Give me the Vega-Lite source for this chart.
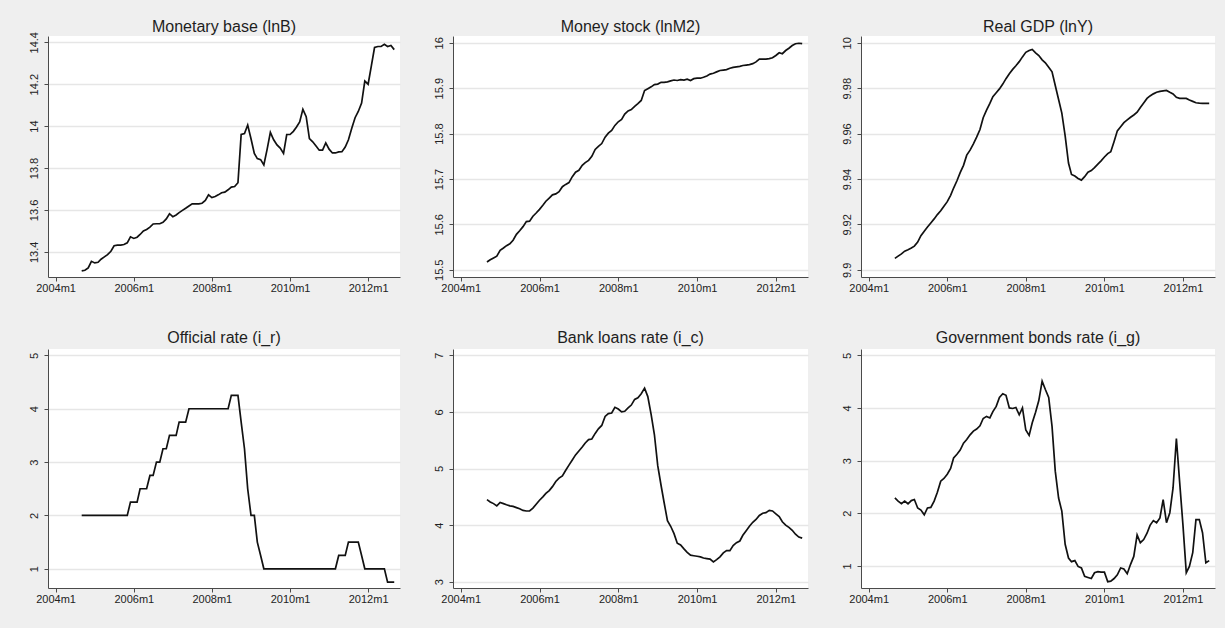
{
  "$schema": "https://vega.github.io/schema/vega-lite/v6.json",
  "background": "#efefef",
  "padding": {"left": 28, "top": 18, "right": 10, "bottom": 24},
  "data": {
    "values": [
      {"month": "2004-09-01", "lnB": 13.309, "lnM2": 15.517, "lnY": 9.905, "i_r": 2, "i_c": 4.45, "i_g": 2.29},
      {"month": "2004-10-01", "lnB": 13.312, "lnM2": 15.522, "lnY": 9.906, "i_r": 2, "i_c": 4.41, "i_g": 2.23},
      {"month": "2004-11-01", "lnB": 13.323, "lnM2": 15.526, "lnY": 9.907, "i_r": 2, "i_c": 4.38, "i_g": 2.18},
      {"month": "2004-12-01", "lnB": 13.355, "lnM2": 15.53, "lnY": 9.9082, "i_r": 2, "i_c": 4.34, "i_g": 2.23},
      {"month": "2005-01-01", "lnB": 13.347, "lnM2": 15.543, "lnY": 9.9088, "i_r": 2, "i_c": 4.4, "i_g": 2.18},
      {"month": "2005-02-01", "lnB": 13.35, "lnM2": 15.548, "lnY": 9.9096, "i_r": 2, "i_c": 4.38, "i_g": 2.24},
      {"month": "2005-03-01", "lnB": 13.365, "lnM2": 15.553, "lnY": 9.9104, "i_r": 2, "i_c": 4.36, "i_g": 2.26},
      {"month": "2005-04-01", "lnB": 13.376, "lnM2": 15.557, "lnY": 9.9122, "i_r": 2, "i_c": 4.34, "i_g": 2.1},
      {"month": "2005-05-01", "lnB": 13.387, "lnM2": 15.565, "lnY": 9.915, "i_r": 2, "i_c": 4.33, "i_g": 2.06},
      {"month": "2005-06-01", "lnB": 13.403, "lnM2": 15.578, "lnY": 9.917, "i_r": 2, "i_c": 4.31, "i_g": 1.97},
      {"month": "2005-07-01", "lnB": 13.429, "lnM2": 15.586, "lnY": 9.9188, "i_r": 2, "i_c": 4.29, "i_g": 2.1},
      {"month": "2005-08-01", "lnB": 13.432, "lnM2": 15.595, "lnY": 9.9206, "i_r": 2, "i_c": 4.26, "i_g": 2.11},
      {"month": "2005-09-01", "lnB": 13.432, "lnM2": 15.606, "lnY": 9.9224, "i_r": 2, "i_c": 4.25, "i_g": 2.23},
      {"month": "2005-10-01", "lnB": 13.435, "lnM2": 15.607, "lnY": 9.9243, "i_r": 2, "i_c": 4.25, "i_g": 2.4},
      {"month": "2005-11-01", "lnB": 13.443, "lnM2": 15.618, "lnY": 9.926, "i_r": 2, "i_c": 4.3, "i_g": 2.61},
      {"month": "2005-12-01", "lnB": 13.472, "lnM2": 15.625, "lnY": 9.928, "i_r": 2.25, "i_c": 4.37, "i_g": 2.66},
      {"month": "2006-01-01", "lnB": 13.464, "lnM2": 15.633, "lnY": 9.93, "i_r": 2.25, "i_c": 4.44, "i_g": 2.74},
      {"month": "2006-02-01", "lnB": 13.47, "lnM2": 15.642, "lnY": 9.9328, "i_r": 2.25, "i_c": 4.5, "i_g": 2.85},
      {"month": "2006-03-01", "lnB": 13.483, "lnM2": 15.651, "lnY": 9.936, "i_r": 2.5, "i_c": 4.56, "i_g": 3.05},
      {"month": "2006-04-01", "lnB": 13.5, "lnM2": 15.658, "lnY": 9.9392, "i_r": 2.5, "i_c": 4.61, "i_g": 3.12},
      {"month": "2006-05-01", "lnB": 13.507, "lnM2": 15.665, "lnY": 9.9428, "i_r": 2.5, "i_c": 4.68, "i_g": 3.2},
      {"month": "2006-06-01", "lnB": 13.518, "lnM2": 15.667, "lnY": 9.946, "i_r": 2.75, "i_c": 4.77, "i_g": 3.33},
      {"month": "2006-07-01", "lnB": 13.533, "lnM2": 15.672, "lnY": 9.9505, "i_r": 2.75, "i_c": 4.83, "i_g": 3.4},
      {"month": "2006-08-01", "lnB": 13.534, "lnM2": 15.683, "lnY": 9.9527, "i_r": 3, "i_c": 4.87, "i_g": 3.49},
      {"month": "2006-09-01", "lnB": 13.534, "lnM2": 15.688, "lnY": 9.9555, "i_r": 3, "i_c": 4.97, "i_g": 3.56},
      {"month": "2006-10-01", "lnB": 13.541, "lnM2": 15.692, "lnY": 9.9584, "i_r": 3.25, "i_c": 5.06, "i_g": 3.6},
      {"month": "2006-11-01", "lnB": 13.557, "lnM2": 15.705, "lnY": 9.9618, "i_r": 3.25, "i_c": 5.15, "i_g": 3.66},
      {"month": "2006-12-01", "lnB": 13.582, "lnM2": 15.715, "lnY": 9.967, "i_r": 3.5, "i_c": 5.24, "i_g": 3.8},
      {"month": "2007-01-01", "lnB": 13.568, "lnM2": 15.719, "lnY": 9.9703, "i_r": 3.5, "i_c": 5.31, "i_g": 3.84},
      {"month": "2007-02-01", "lnB": 13.576, "lnM2": 15.73, "lnY": 9.9733, "i_r": 3.5, "i_c": 5.38, "i_g": 3.81},
      {"month": "2007-03-01", "lnB": 13.587, "lnM2": 15.736, "lnY": 9.9763, "i_r": 3.75, "i_c": 5.45, "i_g": 3.93},
      {"month": "2007-04-01", "lnB": 13.598, "lnM2": 15.741, "lnY": 9.978, "i_r": 3.75, "i_c": 5.51, "i_g": 4.03},
      {"month": "2007-05-01", "lnB": 13.608, "lnM2": 15.75, "lnY": 9.9797, "i_r": 3.75, "i_c": 5.52, "i_g": 4.2},
      {"month": "2007-06-01", "lnB": 13.619, "lnM2": 15.765, "lnY": 9.9818, "i_r": 4, "i_c": 5.62, "i_g": 4.27},
      {"month": "2007-07-01", "lnB": 13.629, "lnM2": 15.772, "lnY": 9.9842, "i_r": 4, "i_c": 5.7, "i_g": 4.24},
      {"month": "2007-08-01", "lnB": 13.629, "lnM2": 15.778, "lnY": 9.9864, "i_r": 4, "i_c": 5.76, "i_g": 4.0},
      {"month": "2007-09-01", "lnB": 13.629, "lnM2": 15.792, "lnY": 9.9883, "i_r": 4, "i_c": 5.92, "i_g": 3.99},
      {"month": "2007-10-01", "lnB": 13.632, "lnM2": 15.801, "lnY": 9.9899, "i_r": 4, "i_c": 5.97, "i_g": 4.01},
      {"month": "2007-11-01", "lnB": 13.645, "lnM2": 15.807, "lnY": 9.9917, "i_r": 4, "i_c": 5.98, "i_g": 3.87},
      {"month": "2007-12-01", "lnB": 13.672, "lnM2": 15.818, "lnY": 9.9938, "i_r": 4, "i_c": 6.08, "i_g": 4.0},
      {"month": "2008-01-01", "lnB": 13.659, "lnM2": 15.826, "lnY": 9.9958, "i_r": 4, "i_c": 6.05, "i_g": 3.58},
      {"month": "2008-02-01", "lnB": 13.664, "lnM2": 15.831, "lnY": 9.9966, "i_r": 4, "i_c": 6.0, "i_g": 3.48},
      {"month": "2008-03-01", "lnB": 13.672, "lnM2": 15.843, "lnY": 9.9971, "i_r": 4, "i_c": 6.01, "i_g": 3.72},
      {"month": "2008-04-01", "lnB": 13.682, "lnM2": 15.85, "lnY": 9.9956, "i_r": 4, "i_c": 6.07, "i_g": 3.92},
      {"month": "2008-05-01", "lnB": 13.685, "lnM2": 15.853, "lnY": 9.9944, "i_r": 4, "i_c": 6.12, "i_g": 4.14},
      {"month": "2008-06-01", "lnB": 13.696, "lnM2": 15.86, "lnY": 9.9925, "i_r": 4, "i_c": 6.22, "i_g": 4.51},
      {"month": "2008-07-01", "lnB": 13.709, "lnM2": 15.866, "lnY": 9.9912, "i_r": 4.25, "i_c": 6.25, "i_g": 4.35},
      {"month": "2008-08-01", "lnB": 13.712, "lnM2": 15.873, "lnY": 9.9892, "i_r": 4.25, "i_c": 6.32, "i_g": 4.2},
      {"month": "2008-09-01", "lnB": 13.73, "lnM2": 15.895, "lnY": 9.9872, "i_r": 4.25, "i_c": 6.42, "i_g": 3.65},
      {"month": "2008-10-01", "lnB": 13.96, "lnM2": 15.899, "lnY": 9.9812, "i_r": 3.75, "i_c": 6.27, "i_g": 2.8},
      {"month": "2008-11-01", "lnB": 13.965, "lnM2": 15.903, "lnY": 9.975, "i_r": 3.25, "i_c": 5.95, "i_g": 2.29},
      {"month": "2008-12-01", "lnB": 14.005, "lnM2": 15.908, "lnY": 9.969, "i_r": 2.5, "i_c": 5.6, "i_g": 2.04},
      {"month": "2009-01-01", "lnB": 13.94, "lnM2": 15.909, "lnY": 9.959, "i_r": 2, "i_c": 5.05, "i_g": 1.41},
      {"month": "2009-02-01", "lnB": 13.87, "lnM2": 15.913, "lnY": 9.947, "i_r": 2, "i_c": 4.7, "i_g": 1.15},
      {"month": "2009-03-01", "lnB": 13.845, "lnM2": 15.913, "lnY": 9.942, "i_r": 1.5, "i_c": 4.4, "i_g": 1.08},
      {"month": "2009-04-01", "lnB": 13.84, "lnM2": 15.914, "lnY": 9.9413, "i_r": 1.25, "i_c": 4.08, "i_g": 1.1},
      {"month": "2009-05-01", "lnB": 13.815, "lnM2": 15.916, "lnY": 9.9402, "i_r": 1, "i_c": 3.98, "i_g": 0.99},
      {"month": "2009-06-01", "lnB": 13.89, "lnM2": 15.918, "lnY": 9.9395, "i_r": 1, "i_c": 3.85, "i_g": 0.96},
      {"month": "2009-07-01", "lnB": 13.97, "lnM2": 15.917, "lnY": 9.941, "i_r": 1, "i_c": 3.68, "i_g": 0.8},
      {"month": "2009-08-01", "lnB": 13.935, "lnM2": 15.919, "lnY": 9.943, "i_r": 1, "i_c": 3.65, "i_g": 0.78},
      {"month": "2009-09-01", "lnB": 13.91, "lnM2": 15.918, "lnY": 9.9437, "i_r": 1, "i_c": 3.58, "i_g": 0.76},
      {"month": "2009-10-01", "lnB": 13.895, "lnM2": 15.92, "lnY": 9.945, "i_r": 1, "i_c": 3.52, "i_g": 0.87},
      {"month": "2009-11-01", "lnB": 13.87, "lnM2": 15.917, "lnY": 9.9465, "i_r": 1, "i_c": 3.47, "i_g": 0.89},
      {"month": "2009-12-01", "lnB": 13.96, "lnM2": 15.921, "lnY": 9.948, "i_r": 1, "i_c": 3.46, "i_g": 0.88},
      {"month": "2010-01-01", "lnB": 13.96, "lnM2": 15.922, "lnY": 9.9497, "i_r": 1, "i_c": 3.45, "i_g": 0.88},
      {"month": "2010-02-01", "lnB": 13.975, "lnM2": 15.922, "lnY": 9.9512, "i_r": 1, "i_c": 3.44, "i_g": 0.7},
      {"month": "2010-03-01", "lnB": 13.995, "lnM2": 15.924, "lnY": 9.952, "i_r": 1, "i_c": 3.42, "i_g": 0.71},
      {"month": "2010-04-01", "lnB": 14.02, "lnM2": 15.927, "lnY": 9.9565, "i_r": 1, "i_c": 3.41, "i_g": 0.76},
      {"month": "2010-05-01", "lnB": 14.08, "lnM2": 15.931, "lnY": 9.9612, "i_r": 1, "i_c": 3.4, "i_g": 0.83},
      {"month": "2010-06-01", "lnB": 14.045, "lnM2": 15.933, "lnY": 9.963, "i_r": 1, "i_c": 3.35, "i_g": 0.96},
      {"month": "2010-07-01", "lnB": 13.94, "lnM2": 15.936, "lnY": 9.9648, "i_r": 1, "i_c": 3.39, "i_g": 0.94},
      {"month": "2010-08-01", "lnB": 13.925, "lnM2": 15.939, "lnY": 9.966, "i_r": 1, "i_c": 3.44, "i_g": 0.85},
      {"month": "2010-09-01", "lnB": 13.905, "lnM2": 15.94, "lnY": 9.9672, "i_r": 1, "i_c": 3.51, "i_g": 1.03},
      {"month": "2010-10-01", "lnB": 13.885, "lnM2": 15.941, "lnY": 9.9682, "i_r": 1, "i_c": 3.55, "i_g": 1.18},
      {"month": "2010-11-01", "lnB": 13.885, "lnM2": 15.944, "lnY": 9.9694, "i_r": 1, "i_c": 3.55, "i_g": 1.59},
      {"month": "2010-12-01", "lnB": 13.92, "lnM2": 15.946, "lnY": 9.9715, "i_r": 1, "i_c": 3.64, "i_g": 1.44},
      {"month": "2011-01-01", "lnB": 13.89, "lnM2": 15.947, "lnY": 9.9735, "i_r": 1, "i_c": 3.69, "i_g": 1.5},
      {"month": "2011-02-01", "lnB": 13.872, "lnM2": 15.948, "lnY": 9.9755, "i_r": 1, "i_c": 3.72, "i_g": 1.62},
      {"month": "2011-03-01", "lnB": 13.872, "lnM2": 15.95, "lnY": 9.9766, "i_r": 1, "i_c": 3.82, "i_g": 1.77},
      {"month": "2011-04-01", "lnB": 13.877, "lnM2": 15.951, "lnY": 9.9775, "i_r": 1.25, "i_c": 3.9, "i_g": 1.86},
      {"month": "2011-05-01", "lnB": 13.878, "lnM2": 15.952, "lnY": 9.9782, "i_r": 1.25, "i_c": 3.98, "i_g": 1.82},
      {"month": "2011-06-01", "lnB": 13.9, "lnM2": 15.954, "lnY": 9.9786, "i_r": 1.25, "i_c": 4.05, "i_g": 1.91},
      {"month": "2011-07-01", "lnB": 13.935, "lnM2": 15.958, "lnY": 9.9788, "i_r": 1.5, "i_c": 4.1, "i_g": 2.26},
      {"month": "2011-08-01", "lnB": 13.99, "lnM2": 15.964, "lnY": 9.979, "i_r": 1.5, "i_c": 4.17, "i_g": 1.82},
      {"month": "2011-09-01", "lnB": 14.04, "lnM2": 15.964, "lnY": 9.9782, "i_r": 1.5, "i_c": 4.21, "i_g": 2.01},
      {"month": "2011-10-01", "lnB": 14.07, "lnM2": 15.964, "lnY": 9.9775, "i_r": 1.5, "i_c": 4.22, "i_g": 2.48},
      {"month": "2011-11-01", "lnB": 14.11, "lnM2": 15.965, "lnY": 9.976, "i_r": 1.25, "i_c": 4.26, "i_g": 3.42},
      {"month": "2011-12-01", "lnB": 14.215, "lnM2": 15.967, "lnY": 9.9755, "i_r": 1, "i_c": 4.25, "i_g": 2.6},
      {"month": "2012-01-01", "lnB": 14.2, "lnM2": 15.972, "lnY": 9.9755, "i_r": 1, "i_c": 4.2, "i_g": 1.78},
      {"month": "2012-02-01", "lnB": 14.29, "lnM2": 15.978, "lnY": 9.9755, "i_r": 1, "i_c": 4.15, "i_g": 0.87},
      {"month": "2012-03-01", "lnB": 14.375, "lnM2": 15.976, "lnY": 9.9748, "i_r": 1, "i_c": 4.06, "i_g": 0.99},
      {"month": "2012-04-01", "lnB": 14.38, "lnM2": 15.983, "lnY": 9.9742, "i_r": 1, "i_c": 4.0, "i_g": 1.25},
      {"month": "2012-05-01", "lnB": 14.38, "lnM2": 15.988, "lnY": 9.9736, "i_r": 1, "i_c": 3.96, "i_g": 1.88},
      {"month": "2012-06-01", "lnB": 14.39, "lnM2": 15.994, "lnY": 9.9734, "i_r": 1, "i_c": 3.91, "i_g": 1.88},
      {"month": "2012-07-01", "lnB": 14.38, "lnM2": 15.998, "lnY": 9.9733, "i_r": 0.75, "i_c": 3.84, "i_g": 1.63},
      {"month": "2012-08-01", "lnB": 14.385, "lnM2": 15.999, "lnY": 9.9733, "i_r": 0.75, "i_c": 3.79, "i_g": 1.06},
      {"month": "2012-09-01", "lnB": 14.365, "lnM2": 15.998, "lnY": 9.9733, "i_r": 0.75, "i_c": 3.77, "i_g": 1.1}
    ]
  },
  "columns": 3,
  "bounds": "flush",
  "spacing": {"row": 72, "column": 53},
  "concat": [
    {
      "title": {"text": "Monetary base (lnB)", "offset": 1, "dy": 4},
      "width": 352, "height": 241,
      "mark": {"type": "line", "color": "#111111", "strokeWidth": 1.7},
      "encoding": {
        "x": {"field": "month", "type": "temporal", "title": null,
              "scale": {"type": "utc", "domain": [{"year": 2003, "month": 10, "date": 22, "utc": true}, {"year": 2012, "month": 10, "date": 25, "utc": true}]},
              "axis": {"values": [{"year": 2004, "month": 1, "date": 1, "utc": true}, {"year": 2006, "month": 1, "date": 1, "utc": true}, {"year": 2008, "month": 1, "date": 1, "utc": true}, {"year": 2010, "month": 1, "date": 1, "utc": true}, {"year": 2012, "month": 1, "date": 1, "utc": true}], "labelExpr": "utcFormat(datum.value, '%Y') + 'm1'"}},
        "y": {"field": "lnB", "type": "quantitative", "title": null,
              "scale": {"domain": [13.28, 14.43], "nice": false, "zero": false},
              "axis": {"values": [13.4, 13.6, 13.8, 14, 14.2, 14.4], "format": "~g"}}
      }
    },
    {
      "title": {"text": "Money stock (lnM2)", "offset": 1},
      "width": 355, "height": 241,
      "mark": {"type": "line", "color": "#111111", "strokeWidth": 1.7},
      "encoding": {
        "x": {"field": "month", "type": "temporal", "title": null,
              "scale": {"type": "utc", "domain": [{"year": 2003, "month": 10, "date": 22, "utc": true}, {"year": 2012, "month": 10, "date": 25, "utc": true}]},
              "axis": {"values": [{"year": 2004, "month": 1, "date": 1, "utc": true}, {"year": 2006, "month": 1, "date": 1, "utc": true}, {"year": 2008, "month": 1, "date": 1, "utc": true}, {"year": 2010, "month": 1, "date": 1, "utc": true}, {"year": 2012, "month": 1, "date": 1, "utc": true}], "labelExpr": "utcFormat(datum.value, '%Y') + 'm1'"}},
        "y": {"field": "lnM2", "type": "quantitative", "title": null,
              "scale": {"domain": [15.484, 16.015], "nice": false, "zero": false},
              "axis": {"values": [15.5, 15.6, 15.7, 15.8, 15.9, 16], "format": "~g"}}
      }
    },
    {
      "title": {"text": "Real GDP (lnY)", "offset": 1},
      "width": 354, "height": 241,
      "mark": {"type": "line", "color": "#111111", "strokeWidth": 1.7},
      "encoding": {
        "x": {"field": "month", "type": "temporal", "title": null,
              "scale": {"type": "utc", "domain": [{"year": 2003, "month": 10, "date": 22, "utc": true}, {"year": 2012, "month": 10, "date": 25, "utc": true}]},
              "axis": {"values": [{"year": 2004, "month": 1, "date": 1, "utc": true}, {"year": 2006, "month": 1, "date": 1, "utc": true}, {"year": 2008, "month": 1, "date": 1, "utc": true}, {"year": 2010, "month": 1, "date": 1, "utc": true}, {"year": 2012, "month": 1, "date": 1, "utc": true}], "labelExpr": "utcFormat(datum.value, '%Y') + 'm1'"}},
        "y": {"field": "lnY", "type": "quantitative", "title": null,
              "scale": {"domain": [9.8968, 10.003], "nice": false, "zero": false},
              "axis": {"values": [9.9, 9.92, 9.94, 9.96, 9.98, 10], "format": "~g"}}
      }
    },
    {
      "title": {"text": "Official rate (i_r)", "offset": 3},
      "width": 352, "height": 239,
      "mark": {"type": "line", "color": "#111111", "strokeWidth": 1.7},
      "encoding": {
        "x": {"field": "month", "type": "temporal", "title": null,
              "scale": {"type": "utc", "domain": [{"year": 2003, "month": 10, "date": 22, "utc": true}, {"year": 2012, "month": 10, "date": 25, "utc": true}]},
              "axis": {"values": [{"year": 2004, "month": 1, "date": 1, "utc": true}, {"year": 2006, "month": 1, "date": 1, "utc": true}, {"year": 2008, "month": 1, "date": 1, "utc": true}, {"year": 2010, "month": 1, "date": 1, "utc": true}, {"year": 2012, "month": 1, "date": 1, "utc": true}], "labelExpr": "utcFormat(datum.value, '%Y') + 'm1'"}},
        "y": {"field": "i_r", "type": "quantitative", "title": null,
              "scale": {"domain": [0.64, 5.12], "nice": false, "zero": false},
              "axis": {"values": [1, 2, 3, 4, 5], "format": "~g"}}
      }
    },
    {
      "title": {"text": "Bank loans rate (i_c)", "offset": 3},
      "width": 355, "height": 239,
      "mark": {"type": "line", "color": "#111111", "strokeWidth": 1.7},
      "encoding": {
        "x": {"field": "month", "type": "temporal", "title": null,
              "scale": {"type": "utc", "domain": [{"year": 2003, "month": 10, "date": 22, "utc": true}, {"year": 2012, "month": 10, "date": 25, "utc": true}]},
              "axis": {"values": [{"year": 2004, "month": 1, "date": 1, "utc": true}, {"year": 2006, "month": 1, "date": 1, "utc": true}, {"year": 2008, "month": 1, "date": 1, "utc": true}, {"year": 2010, "month": 1, "date": 1, "utc": true}, {"year": 2012, "month": 1, "date": 1, "utc": true}], "labelExpr": "utcFormat(datum.value, '%Y') + 'm1'"}},
        "y": {"field": "i_c", "type": "quantitative", "title": null,
              "scale": {"domain": [2.89, 7.11], "nice": false, "zero": false},
              "axis": {"values": [3, 4, 5, 6, 7], "format": "~g"}}
      }
    },
    {
      "title": {"text": "Government bonds rate (i_g)", "offset": 3},
      "width": 354, "height": 239,
      "mark": {"type": "line", "color": "#111111", "strokeWidth": 1.7},
      "encoding": {
        "x": {"field": "month", "type": "temporal", "title": null,
              "scale": {"type": "utc", "domain": [{"year": 2003, "month": 10, "date": 22, "utc": true}, {"year": 2012, "month": 10, "date": 25, "utc": true}]},
              "axis": {"values": [{"year": 2004, "month": 1, "date": 1, "utc": true}, {"year": 2006, "month": 1, "date": 1, "utc": true}, {"year": 2008, "month": 1, "date": 1, "utc": true}, {"year": 2010, "month": 1, "date": 1, "utc": true}, {"year": 2012, "month": 1, "date": 1, "utc": true}], "labelExpr": "utcFormat(datum.value, '%Y') + 'm1'"}},
        "y": {"field": "i_g", "type": "quantitative", "title": null,
              "scale": {"domain": [0.58, 5.12], "nice": false, "zero": false},
              "axis": {"values": [1, 2, 3, 4, 5], "format": "~g"}}
      }
    }
  ],
  "config": {
    "view": {"fill": "#ffffff", "stroke": null},
    "font": "Liberation Sans",
    "axis": {
      "domainColor": "#4a4a4a", "domainWidth": 1,
      "tickColor": "#4a4a4a", "tickSize": 4, "tickWidth": 1,
      "labelColor": "#222222", "labelFont": "Liberation Sans", "labelFontSize": 11,
      "labelFlush": false, "labelOverlap": false, "labelBound": false,
      "gridColor": "#e6e6e6", "gridWidth": 1.3
    },
    "axisX": {"grid": false, "labelPadding": 1},
    "axisY": {"grid": true, "labelAngle": -90, "labelAlign": "center", "labelBaseline": "bottom", "labelPadding": 5},
    "title": {"font": "Liberation Sans", "fontSize": 16, "fontWeight": "normal", "color": "#1e1e1e", "anchor": "middle", "frame": "group"}
  }
}
